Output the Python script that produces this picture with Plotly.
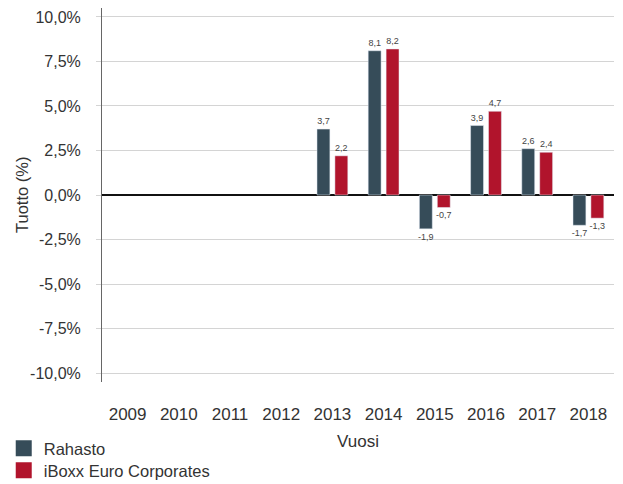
import plotly.graph_objects as go

years = ["2009", "2010", "2011", "2012", "2013", "2014", "2015", "2016", "2017", "2018"]
rahasto = [None, None, None, None, 3.7, 8.1, -1.9, 3.9, 2.6, -1.7]
iboxx = [None, None, None, None, 2.2, 8.2, -0.7, 4.7, 2.4, -1.3]
tick_vals = [-10, -7.5, -5, -2.5, 0, 2.5, 5, 7.5, 10]
tick_text = ["-10,0%", "-7,5%", "-5,0%", "-2,5%", "0,0%", "2,5%", "5,0%", "7,5%", "10,0%"]

c_rah = "#364c59"
c_ibx = "#b1142c"
font_fam = "Liberation Sans, Arial, sans-serif"


def fmt(v):
    return "" if v is None else f"{v:.1f}".replace(".", ",")


fig = go.Figure()
fig.add_trace(go.Bar(x=years, y=rahasto, name="Rahasto", marker_color=c_rah,
                     text=[fmt(v) for v in rahasto], textposition="outside",
                     constraintext="none",
                     textfont=dict(size=9, color="#444"), cliponaxis=False,
                     showlegend=False))
fig.add_trace(go.Bar(x=years, y=iboxx, name="iBoxx Euro Corporates", marker_color=c_ibx,
                     text=[fmt(v) for v in iboxx], textposition="outside",
                     constraintext="none",
                     textfont=dict(size=9, color="#444"), cliponaxis=False,
                     showlegend=False))
# legend entries
fig.add_trace(go.Scatter(x=[None], y=[None], mode="markers", name="Rahasto",
                         legend="legend",
                         marker=dict(symbol="square", size=16, color=c_rah)))
fig.add_trace(go.Scatter(x=[None], y=[None], mode="markers", name="iBoxx Euro Corporates",
                         legend="legend2",
                         marker=dict(symbol="square", size=16, color=c_ibx)))

leg_common = dict(xref="container", yref="container", x=0.006,
                  xanchor="left", yanchor="top", orientation="v",
                  font=dict(size=16.5, color="#333"), tracegroupgap=0,
                  itemwidth=30, bgcolor="rgba(0,0,0,0)")

fig.update_layout(
    width=623, height=484,
    margin=dict(l=102, r=9, t=8, b=102, autoexpand=False),
    paper_bgcolor="white", plot_bgcolor="white",
    font=dict(family=font_fam, size=15, color="#333"),
    barmode="group", bargap=0.3, bargroupgap=0.28,
    legend=dict(y=0.1095, **leg_common),
    legend2=dict(y=0.064, **leg_common),
    xaxis=dict(title=dict(text="Vuosi", standoff=12, font=dict(size=17)),
               showgrid=False, showline=False, ticks="", tickangle=0,
               ticklabelstandoff=20, tickfont=dict(size=17)),
    yaxis=dict(range=[-10.5, 10.5], tickvals=tick_vals, ticktext=tick_text,
               showgrid=True, gridcolor="#d4d4d4", gridwidth=1,
               ticks="outside", ticklen=5, tickcolor="#d4d4d4",
               showline=True, linecolor="#666", linewidth=1,
               zeroline=True, zerolinecolor="#111", zerolinewidth=2,
               ticklabelstandoff=12, tickfont=dict(size=16)),
    annotations=[dict(text="Tuotto (%)", textangle=-90, xref="paper", yref="paper",
                      x=-80 / 512, y=0.5, xanchor="center", yanchor="middle",
                      showarrow=False, font=dict(size=16.5, color="#333"))],
)

fig.write_html("out.html")
